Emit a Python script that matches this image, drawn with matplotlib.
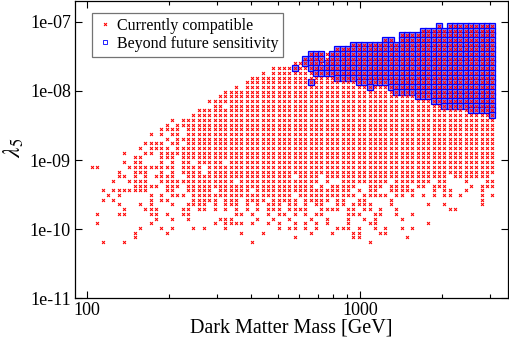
import matplotlib
matplotlib.use("Agg")
import matplotlib.pyplot as plt
from matplotlib.lines import Line2D
from matplotlib.ticker import FixedLocator, FuncFormatter, NullFormatter, NullLocator

plt.rcParams['font.family'] = ['Liberation Serif', 'DejaVu Serif']
plt.rcParams['mathtext.fontset'] = 'stix'

# scan grid: one mass per column, one lambda_5 per row
mass_cols = [104.6, 109.4, 114.4, 119.7, 125.2, 130.9, 137.0, 143.3, 149.8, 156.7,
             163.9, 171.5, 179.4, 187.6, 196.3, 205.3, 214.7, 224.6, 234.9, 245.7,
             257.0, 268.9, 281.2, 294.2, 307.7, 321.8, 336.6, 352.1, 368.3, 385.2,
             403.0, 421.5, 440.9, 461.2, 482.4, 504.6, 527.8, 552.0, 577.4, 604.0,
             631.8, 660.8, 691.2, 723.0, 756.3, 791.0, 827.4, 865.5, 905.3, 946.9,
             990.5, 1036, 1084, 1134, 1186, 1240, 1297, 1357, 1419, 1485,
             1553, 1624, 1699, 1777, 1859, 1945, 2034, 2128, 2225, 2328,
             2435, 2547, 2664, 2786, 2915, 3049]

lam_rows = [8.750e-8, 7.482e-8, 6.397e-8, 5.470e-8, 4.677e-8, 3.999e-8, 3.420e-8,
            2.924e-8, 2.500e-8, 2.138e-8, 1.828e-8, 1.563e-8, 1.337e-8, 1.143e-8,
            9.772e-9, 8.356e-9, 7.145e-9, 6.109e-9, 5.224e-9, 4.467e-9, 3.819e-9,
            3.266e-9, 2.793e-9, 2.388e-9, 2.042e-9, 1.746e-9, 1.493e-9, 1.276e-9,
            1.091e-9, 9.333e-10, 7.980e-10, 6.823e-10, 5.834e-10, 4.989e-10,
            4.266e-10, 3.648e-10, 3.119e-10, 2.667e-10, 2.280e-10, 1.950e-10,
            1.667e-10, 1.426e-10, 1.219e-10, 1.042e-10, 8.913e-11, 7.621e-11,
            6.516e-11]

# occupied columns in each row (top row first)
compatible_rows = [
    "65,67-75",
    "62-75",
    "58-75",
    "55,56,58-75",
    "49-75",
    "46-75",
    "41-75",
    "40-75",
    "38-75",
    "34-75",
    "32,34-75",
    "30-75",
    "29-75",
    "27,29-75",
    "25-75",
    "24-75",
    "22-75",
    "23,24,26-75",
    "20-75",
    "19-75",
    "15,17-75",
    "14,16-75",
    "13-16,18-75",
    "11,13,15,16,18-75",
    "14,16-75",
    "10-13,15,16,18-75",
    "9,11-14,16-75",
    "6,10,11,13-75",
    "8,9,13-15,17-75",
    "6,8,9,13,15,17,18,20-24,26-75",
    "0,1,7-15,17-20,22-75",
    "5,8-10,13,15,17-20,22-75",
    "5,6,8,10,12-15,18-37,39-42,44-66,68-74",
    "4,7-10,13-26,28-42,44,47-55,57-63,65,66,70,74,75",
    "8-12,14-16,18-41,43,45-49,52-54,56-59,61,62,64-66,71,73-75",
    "2,4-10,14,15,18-22,24-29,31-48,50,52,53,56-60,64,66,67,70,73",
    "3,5,11,13,15-17,19-37,39-49,51-55,57,58,60,62,64,66,67,69,73,75",
    "2,4,11,13,14,19-23,25-27,29-32,34-38,40-44,46,47,50,51,56,73",
    "5,9,11,15,18-21,23,25-27,29,31,33-35,37,38,40,42,43,46,47,49-52,56,63,66,73",
    "6,10-12,17,18,20,21,23,25,27,29,31,33-35,37-40,43-46,48,49,51,52,54,57,67,68",
    "1,5,6,11,12,14,17,18,27,28,30,33,35,36,38,40,42,43,48-50,53,54,57,60",
    "12,15,18,24-26,31,34,37,41,44,48,51,53,58",
    "1,11,23,25-28,30,33,35,38,40,42,44,48,52,53,63",
    "9,13,15,19,21,25,35,37,38,40,42,46-48,50,53,55,58,60",
    "8,14,28,32,41,45,49,50,54,55",
    "8,38,49,50,59",
    "2,6,30,52",
]

beyond_rows = [
    "65,67-75",
    "62-75",
    "58-75",
    "55,56,58-75",
    "49-75",
    "46-75",
    "41-43,45-75",
    "40-43,45-75",
    "40-42,44-75",
    "38,41-75",
    "42-75",
    "46-75",
    "41,50-75",
    "52,56-75",
    "57-75",
    "61-75",
    "64-75",
    "66-75",
    "71-75",
    "75",
]


def cols_of(spec):
    out = []
    for part in spec.split(","):
        if "-" in part:
            a, b = part.split("-")
            out.extend(range(int(a), int(b) + 1))
        elif part:
            out.append(int(part))
    return out


def points(rows):
    xs, ys = [], []
    for r, spec in enumerate(rows):
        for k in cols_of(spec):
            xs.append(mass_cols[k])
            ys.append(lam_rows[r])
    return xs, ys


red_x, red_y = points(compatible_rows)
blue_x, blue_y = points(beyond_rows)

fig = plt.figure(figsize=(5.1, 3.38), dpi=100)
ax = fig.add_axes([75/510, 39.7/338, 433.3/510, 297.3/338])
ax.set_xscale('log')
ax.set_yscale('log')

# blue squares first, red crosses show through on top
ax.plot(blue_x, blue_y, ls='none', marker='s', ms=3.7, mew=0.9, mec='#0000ff', mfc='#8c8cff')
ax.plot(red_x, red_y, ls='none', marker='x', ms=2.1, mew=0.75, color='red')

ax.set_xlim(90.6, 3490)
ax.set_ylim(1e-11, 2e-7)

ax.xaxis.set_major_locator(FixedLocator([100, 1000]))
ax.xaxis.set_major_formatter(FuncFormatter(lambda v, p: "%d" % round(v)))
ax.xaxis.set_minor_locator(FixedLocator([200, 300, 400, 500, 600, 700, 800, 900, 2000, 3000]))
ax.xaxis.set_minor_formatter(NullFormatter())
ax.yaxis.set_major_locator(FixedLocator([1e-11, 1e-10, 1e-9, 1e-8, 1e-7]))
ax.yaxis.set_major_formatter(FuncFormatter(lambda v, p: "%.0e" % v))
ax.yaxis.set_minor_locator(NullLocator())

ax.tick_params(which='both', direction='in', top=True, right=True, width=0.8, labelsize=13)
ax.tick_params(which='major', length=5, pad=3)
ax.tick_params(which='minor', length=3)
for s in ax.spines.values():
    s.set_linewidth(0.9)

ax.set_xlabel('Dark Matter Mass [GeV]', fontsize=14.5, labelpad=-1)
fig.text(14/510, 1 - 148/338, r'$\lambda_5$', rotation=90, fontsize=17, ha='center', va='center')

handles = [
    Line2D([], [], ls='none', marker='x', ms=2.1, mew=0.75, color='red', label='Currently compatible'),
    Line2D([], [], ls='none', marker='s', ms=3.3, mew=0.6, mec='blue', mfc='none', label='Beyond future sensitivity'),
]
leg = ax.legend(handles=handles, loc='upper left', bbox_to_anchor=(0.040, 0.9606), borderaxespad=0,
                fontsize=11.5, fancybox=False, edgecolor='0.45', framealpha=1,
                handlelength=1.0, handletextpad=0.25, borderpad=0.3, labelspacing=0.15)
leg.get_frame().set_linewidth(0.9)

fig.savefig('out.png', dpi=100)
